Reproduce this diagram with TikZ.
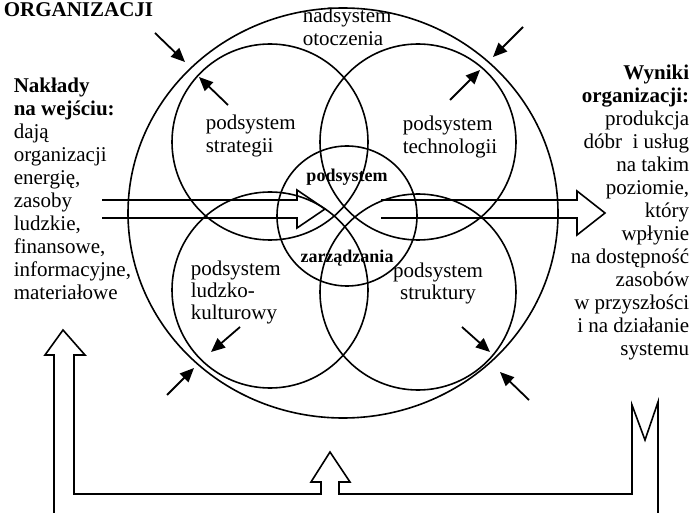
\documentclass[tikz,border=0pt]{standalone}
\usepackage{fontspec}
\setmainfont{Liberation Serif}
\usetikzlibrary{arrows.meta,shapes.geometric}

\begin{document}
\begin{tikzpicture}[x=1pt, y=-1pt, line width=1.6pt,
    txt/.style={font=\fontsize{21}{23}\selectfont, inner sep=0},
    bold/.style={font=\fontsize{18}{20}\selectfont\bfseries, inner sep=0},
    sub/.style={draw, circle, inner sep=0, minimum size=196pt},
    small/.style={-{Triangle[length=14pt,width=12pt]}, line width=1.8pt}]
  \useasboundingbox (0,0) rectangle (699,513);

  \node[draw, ellipse, inner sep=0, minimum width=430pt, minimum height=410pt] (otoczenie) at (343,213) {};
  \node[sub] (strategia) at (270,142) {};
  \node[sub] (technologia) at (418,142) {};
  \node[sub] (kultura) at (270,290) {};
  \node[sub] (struktura) at (418,292) {};
  \node[draw, circle, inner sep=0, minimum size=140pt] (zarzadzanie) at (347,216) {};

  \node[txt, anchor=north west, font=\fontsize{21}{23}\selectfont\bfseries] (tytul) at (3,2) {ORGANIZACJI};
  \node[txt, anchor=north west, align=left] (nadsystem) at (302,7) {nadsystem\\otoczenia};
  \node[txt, anchor=north west, align=left] (tstrategia) at (205,114) {podsystem\\strategii};
  \node[txt, anchor=north west, align=left] (ttechnologia) at (402,115) {podsystem\\technologii};
  \node[txt, anchor=north west, align=left, font=\fontsize{21}{22}\selectfont] (tkultura) at (190,260) {podsystem\\ludzko-\\kulturowy};
  \node[txt, anchor=north, align=center, font=\fontsize{21}{22}\selectfont] (tstruktura) at (438,262) {podsystem\\struktury};
  \node[bold] (tpodsystem) at (347,177) {podsystem};
  \node[bold] (tzarzadzanie) at (347,258) {zarządzania};

  \node[txt, anchor=north west, align=left] (naklady) at (13,77)
    {\textbf{Nakłady}\\\textbf{na wejściu:}\\dają\\organizacji\\energię,\\zasoby\\ludzkie,\\finansowe,\\informacyjne,\\materiałowe};
  \node[txt, anchor=north east, align=right] (wyniki) at (690,64)
    {\textbf{Wyniki}\\\textbf{organizacji:}\\produkcja\\dóbr\ \ i usług\\na takim\\poziomie,\\który\\wpłynie\\na dostępność\\zasobów\\w przyszłości\\i na działanie\\systemu};

  \coordinate (o1a) at (155,33);  \coordinate (o1b) at (185,62);
  \coordinate (o2a) at (523,27);  \coordinate (o2b) at (493,57);
  \coordinate (o3a) at (167,395); \coordinate (o3b) at (194,368);
  \coordinate (o4a) at (529,400); \coordinate (o4b) at (500,372);
  \coordinate (s1a) at (228,105); \coordinate (s1b) at (199,77);
  \coordinate (s2a) at (450,100); \coordinate (s2b) at (480,70);
  \coordinate (s3a) at (240,327); \coordinate (s3b) at (211,352);
  \coordinate (s4a) at (462,327); \coordinate (s4b) at (490,352);
  \draw[small] (o1a) -- (o1b);
  \draw[small] (o2a) -- (o2b);
  \draw[small] (o3a) -- (o3b);
  \draw[small] (o4a) -- (o4b);
  \draw[small] (s1a) -- (s1b);
  \draw[small] (s2a) -- (s2b);
  \draw[small] (s3a) -- (s3b);
  \draw[small] (s4a) -- (s4b);

  \draw (102,200) -- (297,200) -- (297,190) -- (325,209) -- (297,228) -- (297,218) -- (102,218);
  \draw (381,200) -- (577,200) -- (577,191) -- (605,213) -- (577,235) -- (577,218) -- (381,218);

  \draw (54,513) -- (54,355) -- (45,355) -- (63,330) -- (85,355) -- (74,355) -- (74,494)
    -- (321,494) -- (321,482) -- (311,482) -- (330,452) -- (350,482) -- (339,482) -- (339,494)
    -- (632,494) -- (632,405) -- (645,440) -- (658,402) -- (658,513);
\end{tikzpicture}
\end{document}
